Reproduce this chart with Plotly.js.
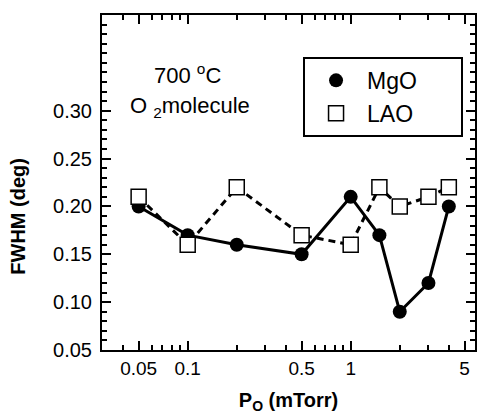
<!DOCTYPE html>
<html><head><meta charset="utf-8">
<script src="https://cdn.plot.ly/plotly-3.0.1.min.js"></script>
<style>html,body{margin:0;padding:0;background:#fff}#chart{width:478px;height:414px}</style>
</head><body><div id="chart"></div>
<script>
const pressure = [0.05, 0.1, 0.2, 0.5, 1, 1.5, 2, 3, 4];
const fwhmMgO = [0.20, 0.17, 0.16, 0.15, 0.21, 0.17, 0.09, 0.12, 0.20];
const fwhmLAO = [0.21, 0.16, 0.22, 0.17, 0.16, 0.22, 0.20, 0.21, 0.22];
const seriesNames = ['MgO', 'LAO'];
const xTickVals = [0.05, 0.1, 0.5, 1, 5];
const xTickText = ['0.05', '0.1', '0.5', '1', '5'];
const xMinorVals = [0.03,0.04,0.06,0.07,0.08,0.09,0.2,0.3,0.4,0.6,0.7,0.8,0.9,2,3,4];
const yTickVals = [0.05, 0.10, 0.15, 0.20, 0.25, 0.30];
const yTickText = ['0.05', '0.10', '0.15', '0.20', '0.25', '0.30'];

const font = 'Liberation Sans, Arial, sans-serif';
const pad = '\u00a0\u00a0\u00a0\u00a0\u00a0\u00a0';
const traces = [
  {x: pressure, y: fwhmMgO, type: 'scatter', mode: 'lines', showlegend: false,
   line: {color: '#000', width: 3}},
  {x: pressure, y: fwhmLAO, type: 'scatter', mode: 'lines', showlegend: false,
   line: {color: '#000', width: 3, dash: '7px,5px'}},
  {x: pressure, y: fwhmMgO, name: seriesNames[0] + pad, type: 'scatter', mode: 'markers',
   marker: {symbol: 'circle', size: 14, color: '#000'}},
  {x: pressure, y: fwhmLAO, name: seriesNames[1] + pad, type: 'scatter', mode: 'markers',
   marker: {symbol: 'square', size: 15, color: '#fff', line: {width: 1.5, color: '#000'}}}
];
const layout = {
  width: 478, height: 414,
  margin: {l: 102, r: 3, t: 15, b: 64},
  paper_bgcolor: '#fff', plot_bgcolor: '#fff',
  font: {family: font, color: '#000', size: 19},
  showlegend: true,
  legend: {x: 0.539, y: 0.875, xanchor: 'left', yanchor: 'top',
    bordercolor: '#000', borderwidth: 2, bgcolor: '#fff',
    font: {size: 23, family: font}, itemwidth: 52, tracegroupgap: 0},
  xaxis: {type: 'log', range: [Math.log10(0.0298), Math.log10(5.79)],
    tickvals: xTickVals, ticktext: xTickText, ticks: 'inside', ticklen: 9, tickwidth: 2, tickcolor: '#000',
    minor: {tickvals: xMinorVals, ticks: 'inside', ticklen: 5, tickwidth: 2, tickcolor: '#000'},
    showline: true, linewidth: 2, linecolor: '#000', mirror: 'ticks',
    showgrid: false, zeroline: false, tickfont: {size: 19},
    title: {text: '<b>P<sub>O</sub> (mTorr)</b>', font: {size: 20}, standoff: 30}},
  yaxis: {range: [0.05, 0.40], tickvals: yTickVals, ticktext: yTickText,
    ticks: 'inside', ticklen: 9, tickwidth: 2, tickcolor: '#000', ticklabelstandoff: 4,
    minor: {dtick: 0.01, ticks: 'inside', ticklen: 5, tickwidth: 2, tickcolor: '#000'},
    showline: true, linewidth: 2, linecolor: '#000', mirror: 'ticks',
    showgrid: false, zeroline: false, tickfont: {size: 20}},
  annotations: [
    {xref: 'paper', yref: 'paper', x: -0.226, y: 0.40, xanchor: 'center', yanchor: 'middle',
     text: '<b>FWHM (deg)</b>', textangle: -90, showarrow: false, font: {size: 20}},
    {xref: 'paper', yref: 'paper', x: 0.134, y: 0.824, xanchor: 'left', yanchor: 'middle',
     text: '700 <sup>o</sup>C', showarrow: false, font: {size: 22}},
    {xref: 'paper', yref: 'paper', x: 0.07, y: 0.725, xanchor: 'left', yanchor: 'middle',
     text: 'O <sub>2</sub>molecule', showarrow: false, font: {size: 22}}
  ]
};
Plotly.newPlot('chart', traces, layout, {displayModeBar: false, staticPlot: true});
</script></body></html>
